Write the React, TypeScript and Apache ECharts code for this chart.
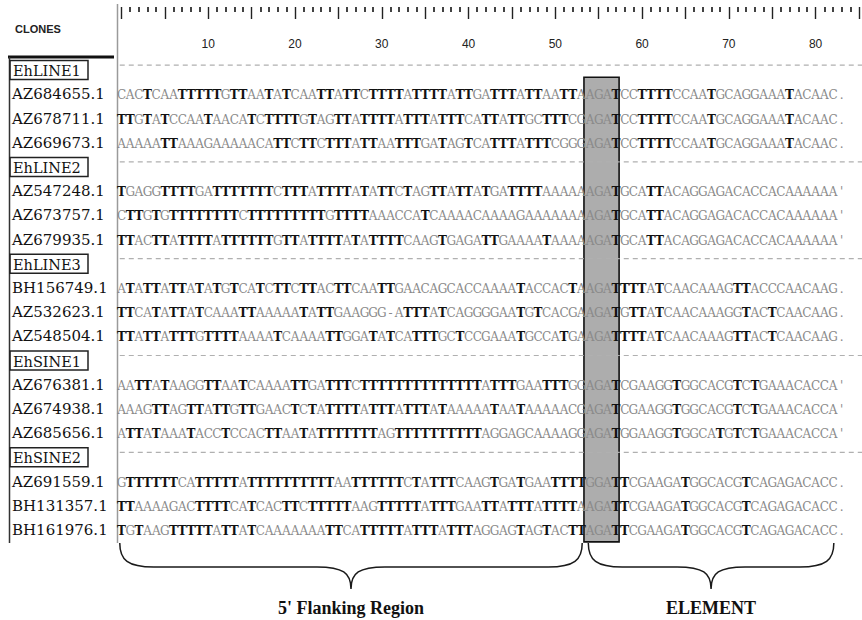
import React, { useEffect, useRef } from 'react';
import * as echarts from 'echarts';

// ---------- data ----------
const rowLabels = [
  'EhLINE1', 'AZ684655.1', 'AZ678711.1', 'AZ669673.1',
  'EhLINE2', 'AZ547248.1', 'AZ673757.1', 'AZ679935.1',
  'EhLINE3', 'BH156749.1', 'AZ532623.1', 'AZ548504.1',
  'EhSINE1', 'AZ676381.1', 'AZ674938.1', 'AZ685656.1',
  'EhSINE2', 'AZ691559.1', 'BH131357.1', 'BH161976.1',
];

// aligned sequences (written in blocks of ten); '' = family header row
const sequenceRows = [
  '',
  'CACTCAATTT TTGTTAATAT CAATTATTCT TTTATTTTAT TGATTTATTA ATTAAGATCC TTTTCCAATG CAGGAAATAC AAC.',
  'TTGTATCCAA TAACATCTTT TGTAGTTATT TTATTTATTT CATTATTGCT TTCGAGATCC TTTTCCAATG CAGGAAATAC AAC.',
  'AAAAATTAAA GAAAAACATT CTTCTTTATT AATTTGATAG TCATTTATTT CGGGAGATCC TTTTCCAATG CAGGAAATAC AAC.',
  '',
  "TGAGGTTTTG ATTTTTTTCT TTATTTTATA TTCTAGTTAT TATGATTTTA AAAAAGATGC ATTACAGGAG ACACCACAAA AAA'",
  "CTTGTGTTTT TTTTCTTTTT TTTTGTTTTA AACCATCAAA ACAAAAGAAA AAAAAGATGC ATTACAGGAG ACACCACAAA AAA'",
  "TTACTTATTT TATTTTTTGT TATTTTATAT TTTCAAGTGA GATTGAAAAT AAAAAGATGC ATTACAGGAG ACACCACAAA AAA'",
  '',
  'ATATTATTAT ATGTCATCTT CTTACTTCAA TTGAACAGCA CCAAAATACC ACTAAGATTT TATCAACAAA GTTACCCAAC AAG.',
  'TTCATATTAT CAAATTAAAA ATATTGAAGG G-ATTTATCA GGGGAATGTC ACGAAGATGT TATCAACAAA GGTACTCAAC AAG.',
  'TTATTATTTG TTTTAAAATC AAAATTGGAT ATCATTTGCT CCGAAATGCC ATGAAGATTT TATCAACAAA GTTACTCAAC AAG.',
  '',
  "AATTATAAGG TTAATCAAAA TTGATTTCTT TTTTTTTTTT TTATTTGAAT TTGGAGATCG AAGGTGGCAC GTCTGAAACA CCA'",
  "AAAGTTAGTT ATTGTTGAAC TCTATTTTAT TTATTTATAA AAATAATAAA AACGAGATCG AAGGTGGCAC GTCTGAAACA CCA'",
  "ATTATAAATA CCTCCACTTA ATATTTTTTT AGTTTTTTTT TTAGGAGCAA AAGGAGATGG AAGGTGGCAT GTCTGAAACA CCA'",
  '',
  'GTTTTTTCAT TTTTATTTTT TTTTTAATTT TTTCTATTTC AAGTGATGAA TTTTGGATTC GAAGATGGCA CGTCAGAGAC ACC.',
  'TTAAAAGACT TTTCATCACT TCTTTTTAAG TTTTTATTTG AATTATTTAT TTTAAGATTC GAAGATGGCA CGTCAGAGAC ACC.',
  'TGTAAGTTTT TATTATCAAA AAAATTCATT TTTATTTATT TAGGAGTAGT ACTTAGATTC GAAGATGGCA CGTCAGAGAC ACC.',
];

const rulerLabels = [10, 20, 30, 40, 50, 60, 70, 80];
// insertion site (0-based alignment columns) boxed in the figure
const siteColumns = [54, 57];
const regionNames = ["5' Flanking Region", 'ELEMENT'];
const regionFrom = [0, 54];
const regionTo = [53, 82];

// ---------- layout / style constants ----------
const CHAR_W = 8.92;
const GRID_LEFT = 121.5;
const GRID_TOP = 58;
const ROW_H = 24.2;
const SERIF = 'DejaVu Serif';
const SANS = 'Liberation Sans';

const sequences = sequenceRows.map((s) => s.replace(/ /g, ''));
const headerSet = new Set(rowLabels.filter((_, i) => sequences[i] === ''));

const charData: [number, number, string][] = [];
sequences.forEach((s, r) => {
  for (let i = 0; i < s.length; i++) charData.push([i, r, s[i]]);
});
const headerRows = rowLabels.map((_, r) => r).filter((r) => sequences[r] === '');

export default function App() {
  const ref = useRef<HTMLDivElement>(null);

  useEffect(() => {
    if (!ref.current) return;
    const chart = echarts.init(ref.current, undefined, { renderer: 'svg' });
    const lastRow = rowLabels.length - 1;

    const option: any = {
      animation: false,
      backgroundColor: '#ffffff',
      title: {
        text: 'CLONES',
        left: 10,
        top: 18,
        textStyle: { fontFamily: SANS, fontSize: 11, fontWeight: 'bold', color: '#222' },
      },
      grid: { left: GRID_LEFT, top: GRID_TOP, width: 85 * CHAR_W, height: rowLabels.length * ROW_H },
      xAxis: {
        type: 'value',
        position: 'top',
        min: 0,
        max: 85,
        interval: 5,
        offset: GRID_TOP - 7,
        axisLine: { show: false },
        splitLine: { show: false },
        axisTick: { show: true, inside: true, length: 12, lineStyle: { color: '#222', width: 1.4 } },
        minorTick: { show: true, splitNumber: 5, length: 5, lineStyle: { color: '#222', width: 1.7 } },
        axisLabel: {
          inside: true,
          margin: 31,
          fontFamily: SANS,
          fontSize: 12,
          color: '#222',
          formatter: (v: number) => (rulerLabels.includes(v) ? String(v) : ''),
        },
      },
      yAxis: {
        type: 'category',
        inverse: true,
        data: rowLabels,
        axisLine: { show: false },
        axisTick: { show: false },
        splitLine: { show: false },
        axisLabel: {
          interval: 0,
          align: 'left',
          margin: GRID_LEFT - 10,
          formatter: (v: string) => (headerSet.has(v) ? `{hdr|${v}}` : `{id|${v}}`),
          rich: {
            hdr: {
              fontFamily: SERIF,
              fontSize: 14.5,
              color: '#111',
              borderColor: '#222',
              borderWidth: 1.5,
              padding: [3, 4, 1, 3],
              width: 71,
            },
            id: { fontFamily: SERIF, fontSize: 15, color: '#111', padding: [0, 0, 0, 2] },
          },
        },
      },
      graphic: [
        { type: 'line', shape: { x1: 8, y1: 57, x2: 114, y2: 57 }, style: { stroke: '#111', lineWidth: 3 } },
        { type: 'line', shape: { x1: 9.5, y1: 57, x2: 9.5, y2: 543 }, style: { stroke: '#333', lineWidth: 1.5 } },
        { type: 'line', shape: { x1: 117.5, y1: 4, x2: 117.5, y2: 543 }, style: { stroke: '#9a9a9a', lineWidth: 1.5 } },
      ],
      series: [
        {
          type: 'custom',
          name: 'site',
          z: 1,
          data: [[siteColumns[0], 1, siteColumns[1]]],
          encode: { x: 0, y: 1 },
          renderItem: (params: any, api: any) => {
            const a = api.coord([api.value(0) - 0.7, 1]);
            const b = api.coord([api.value(2) + 0.35, lastRow]);
            const top = a[1] - 17;
            const bottom = b[1] + 12;
            return {
              type: 'rect',
              shape: { x: a[0], y: top, width: b[0] - a[0], height: bottom - top },
              style: { fill: '#adadad', stroke: '#111', lineWidth: 1.6 },
            };
          },
        },
        {
          type: 'custom',
          name: 'dashes',
          z: 2,
          data: headerRows.map((r) => [0, r]),
          encode: { x: 0, y: 1 },
          renderItem: (params: any, api: any) => {
            const p = api.coord([-0.2, api.value(1)]);
            const y = p[1] - 5;
            return {
              type: 'line',
              shape: { x1: p[0], y1: y, x2: api.getWidth(), y2: y },
              style: { stroke: '#b0b0b0', lineWidth: 1.2, lineDash: [5, 4] },
            };
          },
        },
        {
          type: 'custom',
          name: 'bases',
          z: 3,
          data: charData.map((d) => [d[0], d[1]]),
          encode: { x: 0, y: 1 },
          renderItem: (params: any, api: any) => {
            const ch = charData[params.dataIndex][2];
            const p = api.coord([api.value(0), api.value(1)]);
            const isT = ch === 'T';
            return {
              type: 'text',
              x: p[0],
              y: p[1] + 1,
              style: {
                text: ch,
                align: 'center',
                verticalAlign: 'middle',
                fill: isT ? '#111111' : '#8a8a8a',
                fontFamily: SERIF,
                fontSize: 12,
                fontWeight: isT ? 'bold' : 'normal',
              },
            };
          },
        },
        {
          type: 'custom',
          name: 'regions',
          z: 4,
          data: regionNames.map((_, k) => [regionFrom[k], lastRow, regionTo[k]]),
          encode: { x: 0, y: 1 },
          renderItem: (params: any, api: any) => {
            const a = api.coord([api.value(0) - 0.2, api.value(1)]);
            const b = api.coord([api.value(2) + 0.1, api.value(1)]);
            const x1 = a[0];
            const x2 = b[0];
            const xm = (x1 + x2) / 2;
            const y0 = a[1] + 13;
            const y1 = y0 + 24;
            const y2 = y0 + 46;
            const d =
              `M${x1},${y0} C${x1},${y0 + 17} ${x1 + 8},${y1} ${x1 + 34},${y1} ` +
              `L${xm - 34},${y1} C${xm - 8},${y1} ${xm},${y1 + 6} ${xm},${y2} ` +
              `C${xm},${y1 + 6} ${xm + 8},${y1} ${xm + 34},${y1} ` +
              `L${x2 - 34},${y1} C${x2 - 8},${y1} ${x2},${y0 + 17} ${x2},${y0}`;
            return {
              type: 'group',
              children: [
                {
                  type: 'path',
                  shape: { pathData: d },
                  style: { stroke: '#1a1a1a', fill: 'none', lineWidth: 1.5 },
                },
                {
                  type: 'text',
                  x: xm,
                  y: y2 + 19,
                  style: {
                    text: regionNames[params.dataIndex],
                    align: 'center',
                    verticalAlign: 'middle',
                    fill: '#111',
                    fontFamily: 'Liberation Serif',
                    fontSize: 18,
                    fontWeight: 'bold',
                  },
                },
              ],
            };
          },
        },
      ],
    };

    chart.setOption(option);
    return () => chart.dispose();
  }, []);

  return (
    <div
      ref={ref}
      style={{ position: 'absolute', left: 0, top: 0, width: 862, height: 620, background: '#fff' }}
    />
  );
}
